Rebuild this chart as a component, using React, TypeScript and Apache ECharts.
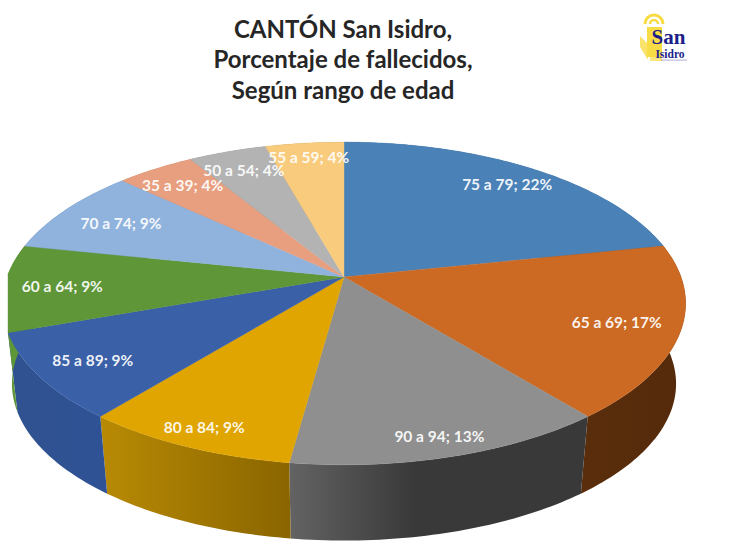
import React, { useEffect, useRef } from "react";
import * as echarts from "echarts";

const titleLines = ["CANTÓN San Isidro,", "Porcentaje de fallecidos,", "Según rango de edad"];
const categories = ["75 a 79", "65 a 69", "90 a 94", "80 a 84", "85 a 89", "60 a 64", "70 a 74", "35 a 39", "50 a 54", "55 a 59"];
const deaths = [5, 4, 3, 2, 2, 2, 2, 1, 1, 1];
const topColors = ["#4a82b8", "#cc6a24", "#8f8f8f", "#e0a500", "#3a60a8", "#5e9638", "#8fb3dd", "#e89f7f", "#b3b3b3", "#f9cb7c"];
const wallStart = ["#2f557c", "#5a2e0c", "#636363", "#b88a04", "#30528f", "#5e9638", "#5f7ea0", "#a06e55", "#7c7c7c", "#ad8c55"];
const wallEnd = ["#2f557c", "#542a0b", "#393939", "#8a6500", "#2f5296", "#5e9638", "#5f7ea0", "#a06e55", "#7c7c7c", "#ad8c55"];
const labelRadius = [0.85, 0.82, 0.9, 0.9, 0.84, 0.83, 0.79, 0.84, 0.84, 0.88];

const total = deaths.reduce((a, b) => a + b, 0);
const APEX_X = 344, APEX_Y = 277, A = 337, B = 157, K = 0.164, CROP_LEFT = 8;
const WALL_SCALE = 0.972, WALL_DROP = 81;

// Perspective projection of a point of the pie's disc (r, angle clockwise from 12 o'clock)
function project(r: number, deg: number): [number, number] {
  const t = (deg * Math.PI) / 180;
  const u = r * Math.sin(t), v = -r * Math.cos(t);
  const den = 1 - K * v;
  return [APEX_X + (A * u) / den, APEX_Y + (B * v) / den];
}
function lower([x, y]: [number, number]): [number, number] {
  return [APEX_X + (x - APEX_X) * WALL_SCALE, APEX_Y + (y - APEX_Y) * WALL_SCALE + WALL_DROP];
}
function sliceAngles(i: number): [number, number] {
  const before = deaths.slice(0, i).reduce((a, b) => a + b, 0);
  return [(before / total) * 360, ((before + deaths[i]) / total) * 360];
}
function rim(a0: number, a1: number): [number, number][] {
  const pts: [number, number][] = [];
  const n = Math.max(2, Math.ceil(a1 - a0));
  for (let k = 0; k <= n; k++) pts.push(project(1, a0 + ((a1 - a0) * k) / n));
  return pts;
}
const cropped = (pts: [number, number][]) => pts.map(([x, y]) => [Math.max(CROP_LEFT, x), y]);
const seriesData = deaths.map((d, i) => [d, i]);

function renderWall(_p: any, api: any) {
  const i = api.value(1);
  const [a0, a1] = sliceAngles(i);
  const top = rim(a0, a1);
  const points = cropped([...top, ...top.slice().reverse().map(lower)]);
  return {
    type: "polygon",
    shape: { points },
    style: {
      fill: new echarts.graphic.LinearGradient(0, 0, 1, 0, [
        { offset: 0, color: wallStart[i] },
        { offset: i === 2 ? 0.42 : 1, color: wallEnd[i] },
        { offset: 1, color: wallEnd[i] },
      ]),
    },
  };
}
function renderTop(_p: any, api: any) {
  const i = api.value(1);
  const [a0, a1] = sliceAngles(i);
  return {
    type: "polygon",
    shape: { points: [[APEX_X, APEX_Y], ...cropped(rim(a0, a1))] },
    style: { fill: topColors[i], stroke: topColors[i], lineWidth: 0.4 },
  };
}
function renderLabel(_p: any, api: any) {
  const i = api.value(1);
  const [a0, a1] = sliceAngles(i);
  const [x, y] = project(labelRadius[i], (a0 + a1) / 2);
  const pct = Math.round((api.value(0) / total) * 100);
  return {
    type: "text",
    style: {
      text: `${categories[i]}; ${pct}%`,
      x, y,
      align: "center",
      verticalAlign: "middle",
      fill: "#ffffff",
      opacity: 0.93,
      font: "bold 15.5px Lato, sans-serif",
    },
  };
}
const customSeries = (name: string, z: number, renderItem: any) => ({
  type: "custom", name, z, silent: true, coordinateSystem: "none",
  data: seriesData, renderItem, clip: false,
});

function logoGraphics() {
  const navy = "#1c1f8a", gold = "#f7dc45";
  return [
    { type: "arc", shape: { cx: 654, cy: 24, r: 9, startAngle: Math.PI, endAngle: 2 * Math.PI }, style: { stroke: gold, fill: "none", lineWidth: 3 } },
    { type: "arc", shape: { cx: 654, cy: 24, r: 4, startAngle: Math.PI, endAngle: 2 * Math.PI }, style: { stroke: gold, fill: "none", lineWidth: 2.5 } },
    { type: "rect", shape: { x: 647, y: 27, width: 15, height: 30 }, style: { fill: gold } },
    { type: "polygon", shape: { points: [[648, 60], [640, 47], [640, 36], [647, 43]] }, style: { fill: gold, opacity: 0.8 } },
    { type: "polygon", shape: { points: [[650, 61], [662, 61], [662, 55], [650, 55]] }, style: { fill: gold, opacity: 0.7 } },
    { type: "text", style: { text: "San", x: 668.5, y: 36.5, align: "center", verticalAlign: "middle", fill: navy, font: 'bold 21px "Liberation Serif", serif' } },
    { type: "text", style: { text: "Isidro", x: 670, y: 54, align: "center", verticalAlign: "middle", fill: navy, font: 'bold 11.5px "Liberation Serif", serif' } },
    { type: "rect", shape: { x: 661, y: 59.5, width: 26, height: 1.2 }, style: { fill: navy, opacity: 0.3 } },
  ];
}

export default function App() {
  const ref = useRef<HTMLDivElement>(null);
  useEffect(() => {
    const chart = echarts.init(ref.current!, undefined, { renderer: "svg" });
    chart.setOption({
      animation: false,
      backgroundColor: "#ffffff",
      title: {
        text: titleLines.join("\n"),
        left: 338, top: 8, textAlign: "center",
        textStyle: { fontFamily: "Lato, sans-serif", fontWeight: "bold", fontSize: 24, lineHeight: 30.5, color: "#262626" },
      },
      graphic: logoGraphics(),
      series: [
        customSeries("Pared", 1, renderWall),
        customSeries("Sector", 2, renderTop),
        customSeries("Etiqueta", 3, renderLabel),
      ],
    });
    return () => chart.dispose();
  }, []);
  return <div ref={ref} style={{ position: "fixed", left: 0, top: 0, width: 749, height: 553 }} />;
}
